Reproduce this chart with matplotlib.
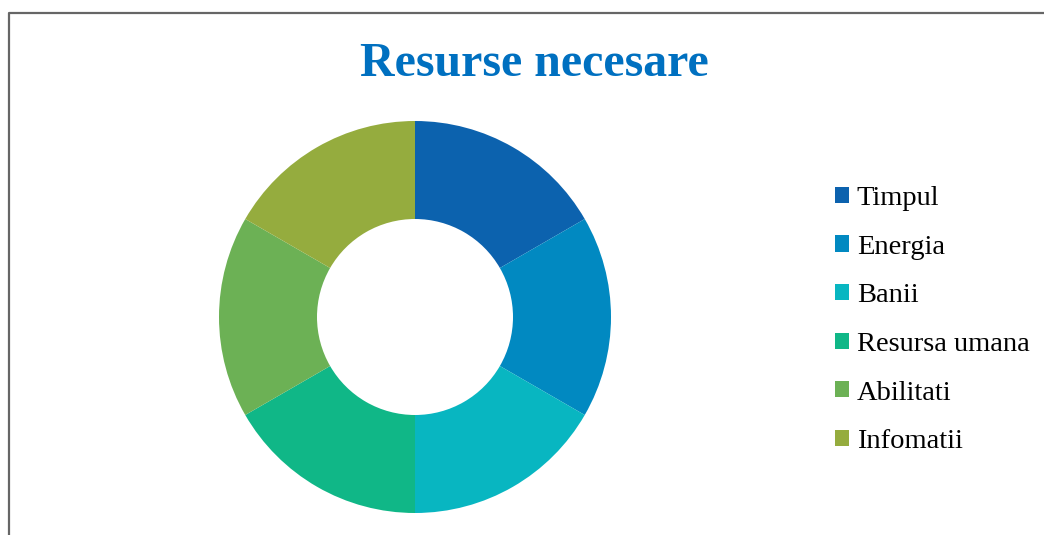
import numpy as np
import matplotlib.pyplot as plt
from matplotlib.lines import Line2D

# data
labels = ['Timpul', 'Energia', 'Banii', 'Resursa umana', 'Abilitati', 'Infomatii']
values = [1, 1, 1, 1, 1, 1]
colors = ['#0C62AE', '#0189C1', '#08B6C1', '#10B787', '#6CB155', '#95AC3E']

W, H = 1044, 535
fig = plt.figure(figsize=(W/100, H/100), dpi=100)

# donut: centre (415,317) px, radius 196 px
cx, cy, r = 415, 317, 196
ax = fig.add_axes([(cx-r)/W, (H-cy-r)/H, 2*r/W, 2*r/H])
wedges, _ = ax.pie(values, colors=colors, startangle=90, counterclock=False,
                   radius=1, wedgeprops=dict(width=0.5, linewidth=0))
ax.set_xlim(-1, 1)
ax.set_ylim(-1, 1)
ax.set_aspect('equal')
ax.axis('off')

# title
fig.text(534/W, 1-76/H, 'Resurse necesare', ha='center', va='baseline',
         fontsize=34.5, fontweight='bold', color='#0070C0', family='Liberation Serif')

# legend
leg = fig.legend(wedges, labels, loc='upper left', bbox_to_anchor=(835/W, 1-186/H),
                 frameon=False, prop={'family': 'Liberation Serif', 'size': 20.5},
                 handlelength=0.49, handleheight=0.49, handletextpad=0.28,
                 labelspacing=0.83, borderpad=0, borderaxespad=0)

# grey frame on left and top
fig.add_artist(Line2D([8.5/W, 8.5/W, 1.0], [0.0, 1-13/H, 1-13/H],
                      transform=fig.transFigure, color='#666666', lw=1.6))

plt.savefig('out.png', dpi=100)
